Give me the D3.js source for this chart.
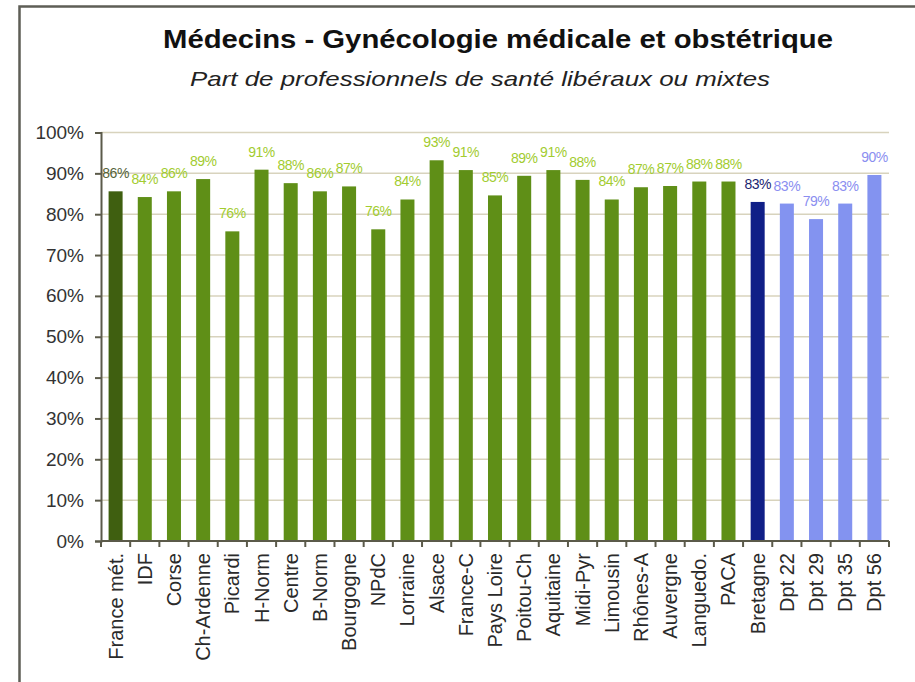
<!DOCTYPE html>
<html>
<head>
<meta charset="utf-8">
<script src="https://cdn.jsdelivr.net/npm/d3@7"></script>
<style>
  body { margin: 0; background: #fff; }
  text { font-family: "Liberation Sans", Arial, sans-serif; }
</style>
</head>
<body>
<svg id="chart" width="915" height="682"></svg>
<script>
// categories and values (% of liberal or mixed practitioners)
const categories = ["France mét.", "IDF", "Corse", "Ch-Ardenne", "Picardi", "H-Norm", "Centre", "B-Norm",
  "Bourgogne", "NPdC", "Lorraine", "Alsace", "France-C", "Pays Loire", "Poitou-Ch", "Aquitaine",
  "Midi-Pyr", "Limousin", "Rhônes-A", "Auvergne", "Languedo.", "PACA", "Bretagne",
  "Dpt 22", "Dpt 29", "Dpt 35", "Dpt 56"];
const values = [85.6, 84.2, 85.6, 88.6, 75.8, 90.9, 87.6, 85.6, 86.8, 76.3, 83.6, 93.2, 90.8, 84.6,
  89.4, 90.8, 88.4, 83.6, 86.6, 86.9, 88.0, 88.0, 83.0, 82.6, 78.8, 82.6, 89.6];
// group of each bar: france, region, bretagne, dept
const groups = ["france"].concat(d3.range(21).map(() => "region"), ["bretagne"], d3.range(4).map(() => "dept"));
const yTicks = [0, 10, 20, 30, 40, 50, 60, 70, 80, 90, 100];

const barColor = {france: "#3f5f10", region: "#5f8f17", bretagne: "#101f87", dept: "#8393f0"};
const labelColor = {france: "#55633a", region: "#a2cc30", bretagne: "#1c2470", dept: "#8a8ef0"};

const svg = d3.select("#chart");

svg.append("rect").attr("width", 915).attr("height", 682).attr("fill", "#fff");
// outer frame (runs off the right and bottom edges)
svg.append("rect")
  .attr("x", 19.5).attr("y", 6.5).attr("width", 1000).attr("height", 1000)
  .attr("fill", "none").attr("stroke", "#5e5e56").attr("stroke-width", 2.5);

// titles
svg.append("text").attr("x", 498).attr("y", 48)
  .attr("text-anchor", "middle").attr("font-weight", "bold").attr("font-size", 25)
  .attr("textLength", 670).attr("lengthAdjust", "spacingAndGlyphs")
  .attr("fill", "#111")
  .text("Médecins - Gynécologie médicale et obstétrique");
svg.append("text").attr("x", 480).attr("y", 86)
  .attr("text-anchor", "middle").attr("font-style", "italic").attr("font-size", 21)
  .attr("textLength", 580).attr("lengthAdjust", "spacingAndGlyphs")
  .attr("fill", "#222")
  .text("Part de professionnels de santé libéraux ou mixtes");

const plotLeft = 101, plotRight = 889, plotTop = 132.5, plotBottom = 541;

const x = d3.scaleBand().domain(categories).range([plotLeft, plotRight]).paddingInner(0.52).paddingOuter(0.26);
const y = d3.scaleLinear().domain([0, 100]).range([plotBottom, plotTop]);

// gridlines
svg.append("g").selectAll("line")
  .data(yTicks.filter(d => d > 0))
  .join("line")
  .attr("x1", plotLeft).attr("x2", plotRight)
  .attr("y1", d => y(d)).attr("y2", d => y(d))
  .attr("stroke", "#d8d3bd").attr("stroke-width", 1.5);

// bars
svg.append("g").selectAll("rect")
  .data(values)
  .join("rect")
  .attr("x", (d, i) => x(categories[i]))
  .attr("y", d => y(d))
  .attr("width", x.bandwidth())
  .attr("height", d => plotBottom - y(d))
  .attr("fill", (d, i) => barColor[groups[i]]);

// value labels
svg.append("g").selectAll("text")
  .data(values)
  .join("text")
  .attr("x", (d, i) => x(categories[i]) + x.bandwidth() / 2)
  .attr("y", d => y(d) - 13)
  .attr("text-anchor", "middle")
  .attr("font-size", 14)
  .attr("letter-spacing", -0.5)
  .attr("fill", (d, i) => labelColor[groups[i]])
  .text(d => Math.round(d) + "%");

// y axis
const yAxis = d3.axisLeft(y).tickValues(yTicks).tickSize(6).tickPadding(11).tickFormat(d => d + "%");
const gy = svg.append("g").attr("transform", `translate(${plotLeft},0)`).call(yAxis);
gy.select(".domain").attr("stroke", "#5b5a4a").attr("stroke-width", 2);
gy.selectAll(".tick line").attr("stroke", "#5b5a4a").attr("stroke-width", 2);
gy.selectAll(".tick text").attr("font-size", 19).attr("fill", "#333")
  .style("font-family", "'Liberation Sans', Arial, sans-serif");

// x axis line with ticks at band boundaries
const step = x.step();
const boundaries = categories.map(c => x(c) - step * 0.26).concat([plotRight]);
svg.append("line").attr("x1", plotLeft).attr("x2", plotRight).attr("y1", plotBottom).attr("y2", plotBottom)
  .attr("stroke", "#5b5a4a").attr("stroke-width", 2);
svg.append("g").selectAll("line")
  .data(boundaries)
  .join("line")
  .attr("x1", d => d).attr("x2", d => d)
  .attr("y1", plotBottom).attr("y2", plotBottom + 6)
  .attr("stroke", "#5b5a4a").attr("stroke-width", 2);

// category labels, rotated
svg.append("g").selectAll("text")
  .data(categories)
  .join("text")
  .attr("transform", d => `translate(${x(d) + x.bandwidth() / 2},553) rotate(-90)`)
  .attr("dy", "0.35em")
  .attr("text-anchor", "end")
  .attr("font-size", 20)
  .attr("fill", "#2a2a2a")
  .text(d => d);
</script>
</body>
</html>
